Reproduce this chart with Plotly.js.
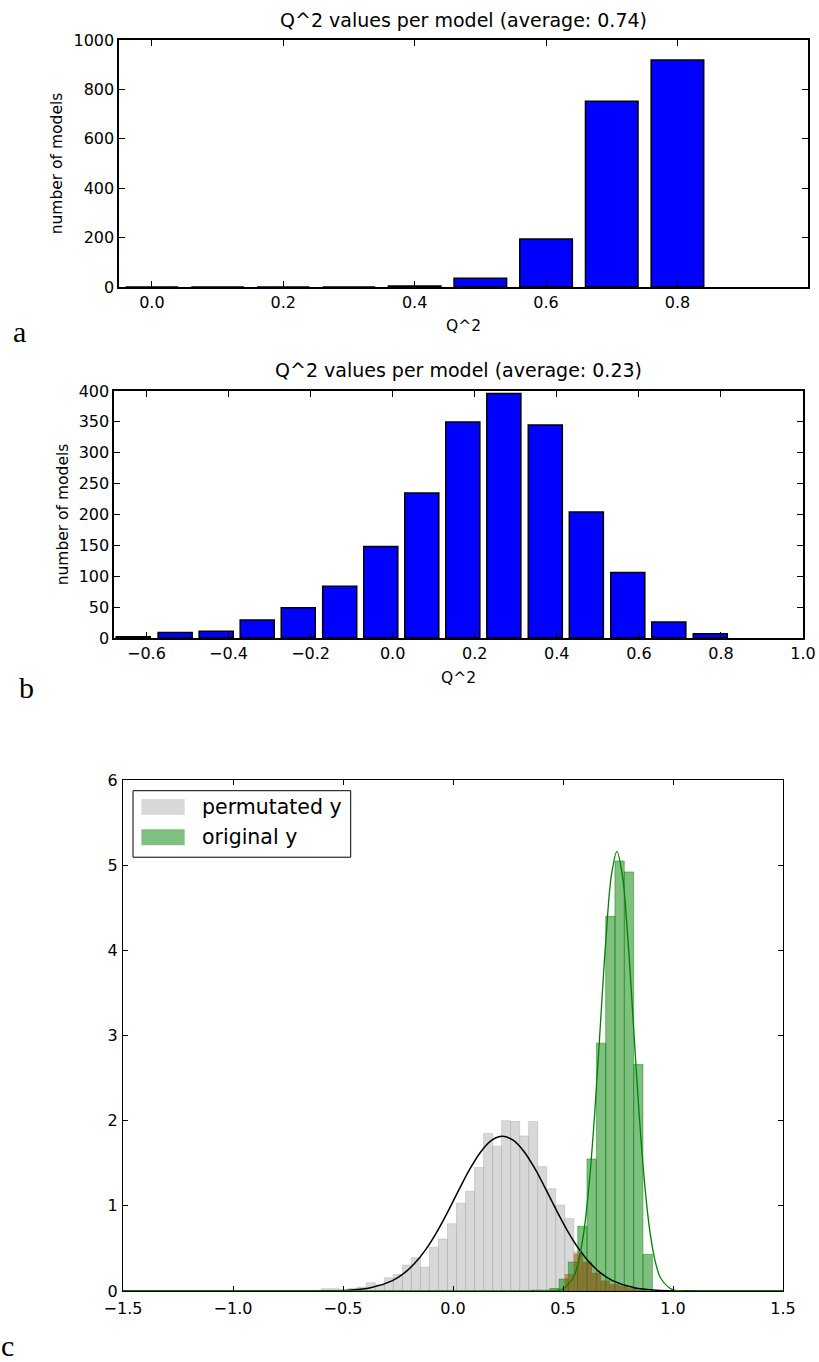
<!DOCTYPE html>
<html><head><meta charset="utf-8">
<script src="https://cdn.plot.ly/plotly-3.0.1.min.js"></script>
<style>
html,body{margin:0;padding:0;background:#fff;width:819px;height:1362px;overflow:hidden;}
.panel{position:absolute;left:0;width:819px;}
#pa{top:0;height:350px;}
#pb{top:350px;height:355px;}
#pc{top:705px;height:657px;}
</style>
</head><body>
<div id="pa" class="panel"></div>
<div id="pb" class="panel"></div>
<div id="pc" class="panel"></div>
<script>
// ---------- Panel a data ----------
const aBinCenters = [0.0, 0.1, 0.2, 0.3, 0.4, 0.5, 0.6, 0.7, 0.8];
const aCounts = [0, 0, 0, 0, 4, 35, 194, 752, 919];
const aXTickVals = [0, 0.2, 0.4, 0.6, 0.8];
const aXTickText = ["0.0", "0.2", "0.4", "0.6", "0.8"];
const aYTickVals = [0, 200, 400, 600, 800, 1000];
const aTitle = "Q^2 values per model (average: 0.74)";

// ---------- Panel b data ----------
const bBinCenters = [-0.632, -0.530, -0.430, -0.330, -0.230, -0.129, -0.029, 0.071, 0.171, 0.271, 0.372, 0.472, 0.573, 0.673, 0.774];
const bCounts = [2, 9, 11, 29, 49, 84, 148, 235, 350, 396, 345, 204, 106, 26, 7];
const bXTickVals = [-0.6, -0.4, -0.2, 0, 0.2, 0.4, 0.6, 0.8, 1.0];
const bXTickText = ["\u22120.6", "\u22120.4", "\u22120.2", "0.0", "0.2", "0.4", "0.6", "0.8", "1.0"];
const bYTickVals = [0, 50, 100, 150, 200, 250, 300, 350, 400];
const bTitle = "Q^2 values per model (average: 0.23)";

// ---------- Panel c data ----------
const grayBinLeft = [-0.599, -0.558, -0.517, -0.476, -0.435, -0.394, -0.353, -0.312, -0.271, -0.230,
  -0.189, -0.148, -0.107, -0.066, -0.025, 0.016, 0.057, 0.098, 0.139, 0.180,
  0.221, 0.262, 0.303, 0.344, 0.385, 0.426, 0.467, 0.508, 0.549, 0.590,
  0.631, 0.672, 0.713, 0.754, 0.795, 0.836];
const grayDensity = [0.027, 0.027, 0.012, 0.03, 0.045, 0.096, 0.073, 0.155, 0.194, 0.303,
  0.39, 0.28, 0.514, 0.61, 0.79, 1.03, 1.17, 1.45, 1.85, 1.70,
  2.00, 1.99, 1.82, 1.99, 1.46, 1.20, 1.01, 0.85, 0.46, 0.34,
  0.21, 0.12, 0.08, 0.06, 0.03, 0.01];
const greenBinLeft = [0.356, 0.398, 0.440, 0.482, 0.524, 0.567, 0.609, 0.652, 0.694, 0.736, 0.779, 0.821, 0.864];
const greenDensity = [0.01, 0.01, 0.03, 0.14, 0.34, 0.76, 1.55, 2.91, 4.40, 5.05, 4.92, 2.66, 0.43];
const overlapBinLeft = [0.508, 0.549, 0.590, 0.631, 0.672, 0.713, 0.754, 0.795, 0.836];
const overlapDensity = [0.20, 0.44, 0.34, 0.21, 0.12, 0.08, 0.06, 0.03, 0.01];
const grayFitX = [-1.5, -0.775, -0.575, -0.475, -0.375, -0.275, -0.225, -0.175, -0.125, -0.075, -0.025,
  0.025, 0.075, 0.125, 0.175, 0.225, 0.275, 0.325, 0.375, 0.425, 0.475, 0.525, 0.575, 0.625,
  0.675, 0.725, 0.825, 0.925, 1.025, 1.225, 1.5];
const grayFitY = [0, 0, 0.002, 0.009, 0.037, 0.122, 0.203, 0.322, 0.483, 0.686, 0.924,
  1.178, 1.424, 1.630, 1.768, 1.816, 1.768, 1.630, 1.424, 1.178, 0.924, 0.686, 0.483, 0.322,
  0.203, 0.122, 0.037, 0.009, 0.002, 0, 0];
const greenFitX = [-1.5, 0.345, 0.445, 0.495, 0.545, 0.57, 0.595, 0.62, 0.645, 0.67, 0.695, 0.72, 0.745,
  0.77, 0.795, 0.82, 0.845, 0.87, 0.895, 0.92, 0.945, 0.995, 1.045, 1.145, 1.5];
const greenFitY = [0, 0, 0.002, 0.02, 0.147, 0.34, 0.70, 1.29, 2.12, 3.13, 4.13, 4.88, 5.16,
  4.88, 4.13, 3.13, 2.12, 1.29, 0.70, 0.34, 0.147, 0.02, 0.002, 0, 0];
const cXTickVals = [-1.5, -1.0, -0.5, 0, 0.5, 1.0, 1.5];
const cXTickText = ["\u22121.5", "\u22121.0", "\u22120.5", "0.0", "0.5", "1.0", "1.5"];
const cYTickVals = [0, 1, 2, 3, 4, 5, 6];
const legendNames = ["permutated y", "original y"];
const panelLabels = ["a", "b", "c"];

const FONT = "DejaVu Sans, Liberation Sans, sans-serif";
const SERIF = "Liberation Serif, DejaVu Serif, serif";
const cfg = {staticPlot: true, displayModeBar: false};

function frameAxis(extra) {
  return Object.assign({
    showline: true, linecolor: "#000", mirror: "ticks",
    ticks: "inside", tickcolor: "#000", showgrid: false, zeroline: false,
    fixedrange: true
  }, extra);
}

// ---------- Panel a ----------
const aH = 350, aT = 40, aPlotH = 247;
Plotly.newPlot("pa", [{
  type: "bar", x: aBinCenters, y: aCounts, width: 0.08,
  marker: {color: "#0000ff", line: {color: "#000", width: 1.5}},
  showlegend: false, hoverinfo: "skip"
}], {
  width: 819, height: aH,
  margin: {l: 119, r: 11, t: aT, b: aH - aT - aPlotH, pad: 0},
  paper_bgcolor: "#fff", plot_bgcolor: "#fff",
  font: {family: FONT, size: 16, color: "#000"},
  title: {text: aTitle, font: {family: FONT, size: 19, color: "#000"},
          x: 0.5, xref: "paper", y: 1 - 20 / aH, yref: "container", yanchor: "middle"},
  xaxis: frameAxis({range: [-0.05, 0.9987], tickvals: aXTickVals, ticktext: aXTickText,
    ticklen: 6, linewidth: 1.6, tickfont: {size: 16},
    title: {text: "Q^2", font: {size: 15.5}, standoff: 9}}),
  yaxis: frameAxis({range: [0, 1000], tickvals: aYTickVals, ticklen: 6, linewidth: 1.6,
    tickfont: {size: 16},
    title: {text: "number of models", font: {size: 15.5}, standoff: 7}}),
  annotations: [{text: panelLabels[0], xref: "paper", yref: "paper",
    x: (19 - 119) / 689, y: 1 - (331 - aT) / aPlotH, showarrow: false,
    xanchor: "center", yanchor: "middle", font: {family: SERIF, size: 30, color: "#000"}}]
}, cfg);

// ---------- Panel b ----------
const bTop = 350, bH = 355, bT = 41, bPlotH = 247.3;
Plotly.newPlot("pb", [{
  type: "bar", x: bBinCenters, y: bCounts, width: 0.083,
  marker: {color: "#0000ff", line: {color: "#000", width: 1.5}},
  showlegend: false, hoverinfo: "skip"
}], {
  width: 819, height: bH,
  margin: {l: 114, r: 16, t: bT, b: bH - bT - bPlotH, pad: 0},
  paper_bgcolor: "#fff", plot_bgcolor: "#fff",
  font: {family: FONT, size: 16, color: "#000"},
  title: {text: bTitle, font: {family: FONT, size: 19, color: "#000"},
          x: 0.5, xref: "paper", y: 1 - (370 - bTop) / bH, yref: "container", yanchor: "middle"},
  xaxis: frameAxis({range: [-0.679, 1.0], tickvals: bXTickVals, ticktext: bXTickText,
    ticklen: 6, linewidth: 1.6, tickfont: {size: 16},
    title: {text: "Q^2", font: {size: 15.5}, standoff: 10}}),
  yaxis: frameAxis({range: [0, 400], tickvals: bYTickVals, ticklen: 6, linewidth: 1.6,
    tickfont: {size: 16},
    title: {text: "number of models", font: {size: 15.5}, standoff: 6}}),
  annotations: [{text: panelLabels[1], xref: "paper", yref: "paper",
    x: (26 - 114) / 689, y: 1 - (688 - bTop - bT) / bPlotH, showarrow: false,
    xanchor: "center", yanchor: "middle", font: {family: SERIF, size: 30, color: "#000"}}]
}, cfg);

// ---------- Panel c ----------
const cL = 123.3, cT = 75, cW = 660, cH = 511.5, cTop = 705;
const px = X => (X - cL) / cW;
const py = Y => 1 - ((Y - cTop) - cT) / cH;
Plotly.newPlot("pc", [
  {type: "bar", x: grayBinLeft, y: grayDensity, width: 0.041, offset: 0,
   marker: {color: "rgba(178,178,178,0.5)", line: {color: "rgba(178,178,178,0.5)", width: 1}},
   name: legendNames[0], showlegend: false, hoverinfo: "skip"},
  {type: "bar", x: greenBinLeft, y: greenDensity, width: 0.0424, offset: 0,
   marker: {color: "rgba(0,128,0,0.5)", line: {color: "rgba(0,128,0,0.45)", width: 1}},
   name: legendNames[1], showlegend: false, hoverinfo: "skip"},
  {type: "bar", x: overlapBinLeft, y: overlapDensity, width: 0.041, offset: 0,
   marker: {color: "rgba(160,70,0,0.5)", line: {width: 0}},
   showlegend: false, hoverinfo: "skip"},
  {type: "scatter", mode: "lines", x: grayFitX, y: grayFitY,
   line: {color: "#000", width: 1.5, shape: "spline", smoothing: 1},
   showlegend: false, hoverinfo: "skip"},
  {type: "scatter", mode: "lines", x: greenFitX, y: greenFitY,
   line: {color: "#008000", width: 1.3, shape: "spline", smoothing: 1},
   showlegend: false, hoverinfo: "skip"}
], {
  width: 819, height: 657,
  margin: {l: cL, r: 819 - cL - cW, t: cT, b: 657 - cT - cH, pad: 0},
  paper_bgcolor: "#fff", plot_bgcolor: "#fff",
  barmode: "overlay",
  font: {family: FONT, size: 16, color: "#000"},
  xaxis: frameAxis({range: [-1.5, 1.5], tickvals: cXTickVals, ticktext: cXTickText,
    ticklen: 5, linewidth: 1.2, tickfont: {size: 16}, ticklabelstandoff: 3}),
  yaxis: frameAxis({range: [0, 6], tickvals: cYTickVals, ticklen: 5, linewidth: 1.2,
    tickfont: {size: 16}, ticklabelstandoff: 1}),
  shapes: [
    {type: "rect", xref: "paper", yref: "paper", x0: px(133.3), x1: px(351), y0: py(857.3), y1: py(790.7),
     line: {color: "#000", width: 1}, fillcolor: "#fff", layer: "above"},
    {type: "rect", xref: "paper", yref: "paper", x0: px(141.7), x1: px(185), y0: py(815), y1: py(799),
     line: {width: 0}, fillcolor: "rgba(178,178,178,0.5)", layer: "above"},
    {type: "rect", xref: "paper", yref: "paper", x0: px(141.7), x1: px(185), y0: py(845.3), y1: py(829.3),
     line: {width: 0}, fillcolor: "rgba(0,128,0,0.5)", layer: "above"}
  ],
  annotations: [
    {text: legendNames[0], xref: "paper", yref: "paper", x: px(200), y: py(807),
     xanchor: "left", yanchor: "middle", showarrow: false, font: {family: FONT, size: 20.5, color: "#000"}},
    {text: legendNames[1], xref: "paper", yref: "paper", x: px(200), y: py(837.5),
     xanchor: "left", yanchor: "middle", showarrow: false, font: {family: FONT, size: 20.5, color: "#000"}},
    {text: panelLabels[2], xref: "paper", yref: "paper", x: px(8), y: py(1346),
     xanchor: "center", yanchor: "middle", showarrow: false, font: {family: SERIF, size: 30, color: "#000"}}
  ]
}, cfg);
</script>
</body></html>
